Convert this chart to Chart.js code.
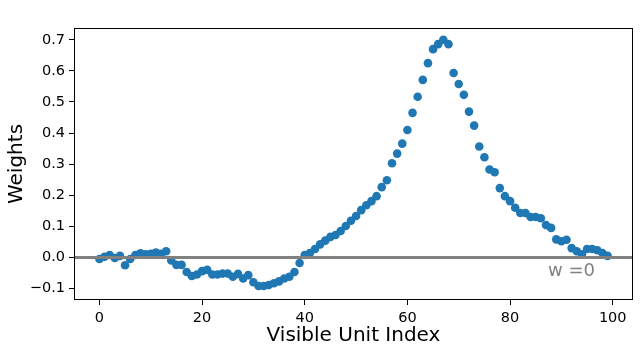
<!DOCTYPE html>
<html>
<head>
<meta charset="utf-8">
<script src="https://cdn.jsdelivr.net/npm/chart.js@4"></script>
<style>
  html, body { margin: 0; padding: 0; background: #fff; }
  canvas { display: block; }
</style>
</head>
<body>
<canvas id="weights-chart" width="642" height="352"></canvas>
<script>
// weight of each visible unit, index = position in array
const weights = [
  -0.005, 0.002, 0.008, -0.002, 0.005, -0.025, -0.005, 0.008, 0.013, 0.010,
  0.012, 0.016, 0.012, 0.020, -0.010, -0.024, -0.024, -0.047, -0.060, -0.055,
  -0.044, -0.040, -0.055, -0.055, -0.052, -0.052, -0.062, -0.053, -0.068, -0.057,
  -0.080, -0.092, -0.092, -0.089, -0.083, -0.077, -0.068, -0.062, -0.047, -0.018,
  0.008, 0.014, 0.027, 0.042, 0.054, 0.066, 0.072, 0.085, 0.101, 0.118,
  0.133, 0.152, 0.168, 0.181, 0.197, 0.226, 0.248, 0.303, 0.334, 0.366,
  0.410, 0.465, 0.517, 0.571, 0.625, 0.670, 0.686, 0.700, 0.686, 0.593,
  0.558, 0.523, 0.469, 0.424, 0.357, 0.322, 0.283, 0.274, 0.223, 0.197,
  0.181, 0.160, 0.143, 0.143, 0.130, 0.130, 0.126, 0.104, 0.095, 0.058,
  0.052, 0.057, 0.030, 0.020, 0.010, 0.027, 0.027, 0.023, 0.014, 0.005
];
const xTicks = [0, 20, 40, 60, 80, 100];
const yTicks = [-0.1, 0.0, 0.1, 0.2, 0.3, 0.4, 0.5, 0.6, 0.7];
const zeroLabel = { text: 'w =0', x: 87.4, y: -0.059 };

const FONT = 'DejaVu Sans';

// axhline at w=0, its label and the box round the axes
const overlay = {
  id: 'overlay',
  afterDatasetsDraw(chart) {
    const { ctx, chartArea: a, scales: { x, y } } = chart;
    const y0 = y.getPixelForValue(0);
    ctx.save();
    ctx.strokeStyle = '#808080';
    ctx.lineWidth = 3;
    ctx.beginPath();
    ctx.moveTo(a.left, y0);
    ctx.lineTo(a.right, y0);
    ctx.stroke();
    ctx.fillStyle = '#808080';
    ctx.font = '18px "' + FONT + '"';
    ctx.textBaseline = 'alphabetic';
    ctx.textAlign = 'left';
    ctx.fillText(zeroLabel.text, x.getPixelForValue(zeroLabel.x), y.getPixelForValue(zeroLabel.y));
    ctx.restore();
  },
  afterDraw(chart) {
    const { ctx, chartArea: a } = chart;
    ctx.save();
    ctx.strokeStyle = '#000';
    ctx.lineWidth = 1;
    ctx.strokeRect(a.left + 0.5, a.top + 0.5, a.right - a.left - 1, a.bottom - a.top - 1);
    ctx.restore();
  }
};

new Chart(document.getElementById('weights-chart'), {
  type: 'scatter',
  data: {
    datasets: [{
      data: weights.map((w, i) => ({ x: i, y: w })),
      backgroundColor: '#1f77b4',
      borderWidth: 0,
      pointRadius: 4.3,
    }],
  },
  options: {
    responsive: false,
    animation: false,
    layout: { padding: { top: 28, right: 9, left: 0, bottom: 0 } },
    plugins: { legend: { display: false }, tooltip: { enabled: false } },
    scales: {
      x: {
        type: 'linear',
        min: -4.95,
        max: 103.95,
        afterBuildTicks: (s) => { s.ticks = xTicks.map(v => ({ value: v })); },
        afterFit: (s) => { s.height = 52; },
        ticks: {
          autoSkip: false, maxRotation: 0, padding: 5,
          color: '#000', font: { family: FONT, size: 14.5 },
          callback: (v) => String(v),
        },
        grid: { drawOnChartArea: false, tickLength: 5, color: '#000' },
        border: { display: false },
        title: {
          display: true, text: 'Visible Unit Index', color: '#000',
          font: { family: FONT, size: 20 }, padding: { top: 0, bottom: 4 },
        },
      },
      y: {
        type: 'linear',
        min: -0.137,
        max: 0.738,
        afterBuildTicks: (s) => { s.ticks = yTicks.map(v => ({ value: v })); },
        afterFit: (s) => { s.width = 74; },
        ticks: {
          autoSkip: false, padding: 4,
          color: '#000', font: { family: FONT, size: 14.5 },
          callback: (v) => (v < 0 ? '\u2212' : '') + Math.abs(v).toFixed(1),
        },
        grid: { drawOnChartArea: false, tickLength: 5, color: '#000' },
        border: { display: false },
        title: {
          display: true, text: 'Weights', color: '#000',
          font: { family: FONT, size: 20 }, padding: { top: 5, bottom: 0 },
        },
      },
    },
  },
  plugins: [overlay],
});
</script>
</body>
</html>
